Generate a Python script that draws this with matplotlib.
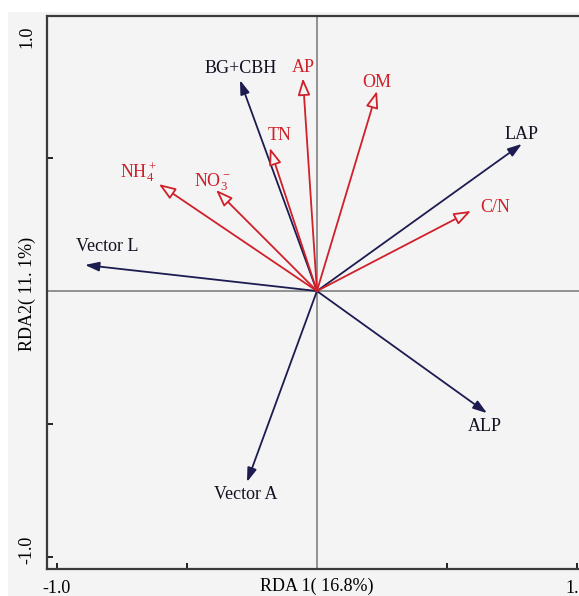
import matplotlib.pyplot as plt
from matplotlib.patches import Rectangle

plt.rcParams['font.family'] = ['Liberation Serif', 'DejaVu Serif']
plt.rcParams['mathtext.default'] = 'regular'

# RDA scores
soil_names = ['AP', 'OM', 'TN', r'NH$_4^+$', r'NO$_3^-$', 'C/N']
soil_x = [-0.054, 0.231, -0.181, -0.608, -0.388, 0.592]
soil_y = [0.800, 0.752, 0.538, 0.402, 0.380, 0.301]

enz_names = ['BG+CBH', 'LAP', 'Vector L', 'ALP', 'Vector A']
enz_x = [-0.296, 0.788, -0.892, 0.654, -0.269]
enz_y = [0.793, 0.553, 0.098, -0.459, -0.718]

# label offsets from the arrow tip, in pixels
soil_off = [(0, 11), (0, 9), (10, 12), (-20, 12), (-3, 8), (24, 3)]
enz_off = [(1, 12), (0, 9), (22, 18), (-2, -13), (-1, -12)]

red = '#d0202a'
navy = '#1c1c50'
bg = '#f4f4f4'
fs = 13

fig = plt.figure(figsize=(5.79, 5.96), dpi=100, facecolor='white')
fig.patches.append(Rectangle((8 / 579, 0), 1, 584 / 596, transform=fig.transFigure,
                             facecolor=bg, edgecolor='none', zorder=-5))
ax = fig.add_axes([47 / 579, 27 / 596, 543 / 579, 553 / 596])
ax.set_facecolor(bg)
ax.set_xlim(-1.038, 1.05)
ax.set_ylim(-1.045, 1.034)

ax.axhline(0, color='#808080', lw=1.2, zorder=1)
ax.axvline(0, color='#808080', lw=1.2, zorder=1)

px = 0.72  # pixel -> point at 100 dpi

for name, x, y, off in zip(soil_names, soil_x, soil_y, soil_off):
    ax.annotate('', xy=(x, y), xytext=(0, 0),
                arrowprops=dict(arrowstyle='-|>,head_length=0.6,head_width=0.22',
                                mutation_scale=17, lw=1.3, ec=red, fc=bg,
                                shrinkA=0, shrinkB=0), zorder=3)
    ax.annotate(name, xy=(x, y), xytext=(off[0] * px, off[1] * px),
                textcoords='offset points', ha='center', va='center',
                color=red, fontsize=fs)

for name, x, y, off in zip(enz_names, enz_x, enz_y, enz_off):
    ax.annotate('', xy=(x, y), xytext=(0, 0),
                arrowprops=dict(arrowstyle='-|>,head_length=0.6,head_width=0.2',
                                mutation_scale=14, lw=1.3, ec=navy, fc=navy,
                                shrinkA=0, shrinkB=0), zorder=2)
    ax.annotate(name, xy=(x, y), xytext=(off[0] * px, off[1] * px),
                textcoords='offset points', ha='center', va='center',
                color='#111122', fontsize=fs)

ax.set_xticks([-1.0, -0.5, 0.5, 1.0])
ax.set_xticklabels(['-1.0', '', '', '1.0'])
ax.set_yticks([-1.0, -0.5, 0.5])
ax.set_yticklabels([])
ax.tick_params(axis='x', direction='in', length=4, width=1.2, pad=8, labelsize=fs)
ax.tick_params(axis='y', direction='in', length=4, width=1.2)
for s in ax.spines.values():
    s.set_color('#3a3a3a')
    s.set_linewidth(1.6)

# y tick labels sit a little inside the tick positions in the original
ytr = ax.get_yaxis_transform()
ax.text(-0.037, 0.954, '1.0', transform=ytr, ha='center', va='center',
        rotation=90, fontsize=fs)
ax.text(-0.037, -0.974, '-1.0', transform=ytr, ha='center', va='center',
        rotation=90, fontsize=fs)

ax.text(0.0, -0.032, 'RDA 1( 16.8%)', transform=ax.get_xaxis_transform(),
        ha='center', va='center', fontsize=fs)
ax.text(-0.037, -0.01, 'RDA2( 11. 1%)', transform=ytr,
        ha='center', va='center', rotation=90, fontsize=fs)

fig.savefig('out.png', dpi=100)
